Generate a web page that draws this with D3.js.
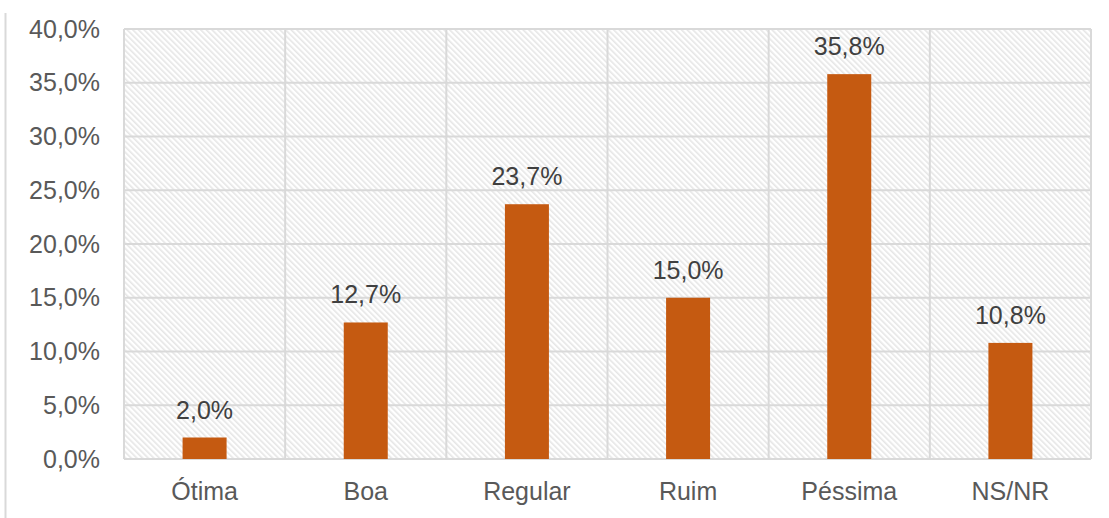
<!DOCTYPE html>
<html><head><meta charset="utf-8">
<script src="https://cdn.jsdelivr.net/npm/d3@7"></script>
<style>body{margin:0;background:#fff}svg{display:block}</style>
</head><body><svg id="c" width="1109" height="518"></svg>
<script>
const categories = ["Ótima","Boa","Regular","Ruim","Péssima","NS/NR"];
const values = [2.0,12.7,23.7,15.0,35.8,10.8];
const yTicks = [0,5,10,15,20,25,30,35,40];

const svg = d3.select("#c");
const m = {left:124, right:1091, top:29, bottom:459};
const x = d3.scaleBand().domain(categories).range([m.left,m.right]).paddingInner(0).paddingOuter(0);
const y = d3.scaleLinear().domain([0,40]).range([m.bottom,m.top]);
const fmt = v => v.toFixed(1).replace(".",",") + "%";
const FONT = "'Liberation Sans', Arial, sans-serif";
const FS = 25;

const defs = svg.append("defs");
const pat = defs.append("pattern").attr("id","hatch").attr("patternUnits","userSpaceOnUse")
  .attr("width",4).attr("height",4).attr("patternTransform","rotate(-45)");
pat.append("rect").attr("width",4).attr("height",4).attr("fill","#ffffff");
pat.append("rect").attr("x",0).attr("y",0).attr("width",1.6).attr("height",4).attr("fill","#e6e6e6");

svg.append("line").attr("x1",5.5).attr("x2",5.5).attr("y1",13).attr("y2",518)
  .attr("stroke","#d9d9d9").attr("stroke-width",2);

svg.append("rect").attr("x",m.left).attr("y",m.top).attr("width",m.right-m.left).attr("height",m.bottom-m.top)
  .attr("fill","url(#hatch)");

svg.append("g").selectAll("line").data(yTicks).join("line")
  .attr("x1",m.left).attr("x2",m.right).attr("y1",d=>y(d)).attr("y2",d=>y(d))
  .attr("stroke","#d9d9d9").attr("stroke-width",2);
const vx = categories.map(c=>x(c)).concat([m.right]);
svg.append("g").selectAll("line").data(vx).join("line")
  .attr("x1",d=>d).attr("x2",d=>d).attr("y1",m.top).attr("y2",m.bottom)
  .attr("stroke","#d9d9d9").attr("stroke-width",2);

const yAxis = d3.axisLeft(y).tickValues(yTicks).tickFormat(fmt).tickSize(0).tickPadding(0);
const ga = svg.append("g").attr("transform","translate(100,0)").call(yAxis);
ga.select(".domain").remove();
ga.selectAll("text").attr("font-family",FONT).attr("font-size",FS).attr("fill","#595959");

const xAxis = d3.axisBottom(x).tickSize(0).tickPadding(0);
const gx = svg.append("g").attr("transform","translate(0,482)").call(xAxis);
gx.select(".domain").remove();
gx.selectAll("text").attr("font-family",FONT).attr("font-size",FS).attr("fill","#595959");

const bw = 44;
const data = categories.map((c,i)=>({c, v:values[i]}));
svg.append("g").selectAll("rect").data(data).join("rect")
  .attr("x",d=>x(d.c)+x.bandwidth()/2-bw/2).attr("width",bw)
  .attr("y",d=>y(d.v)).attr("height",d=>y(0)-y(d.v)).attr("fill","#C55A11");

svg.append("g").selectAll("text").data(data).join("text")
  .attr("x",d=>x(d.c)+x.bandwidth()/2).attr("y",d=>y(d.v)-19)
  .attr("text-anchor","middle").attr("font-family",FONT)
  .attr("font-size",FS).attr("fill","#404040").text(d=>fmt(d.v));
</script></body></html>
